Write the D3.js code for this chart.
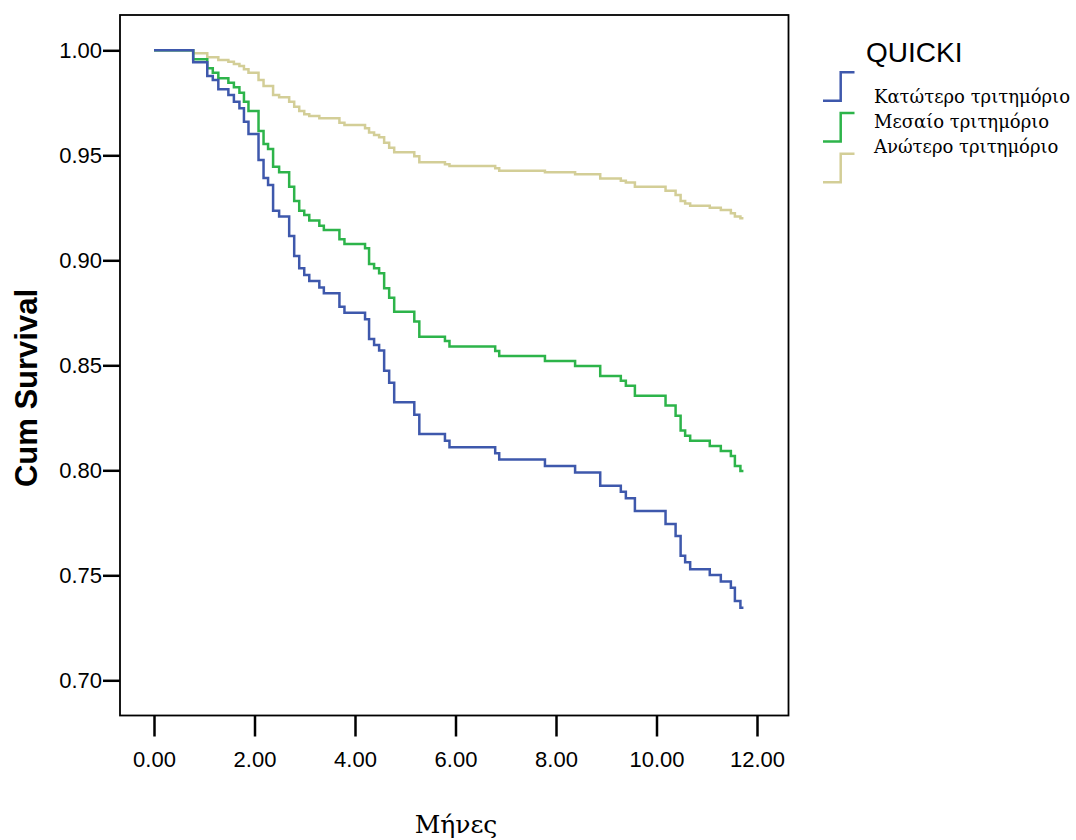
<!DOCTYPE html>
<html>
<head>
<meta charset="utf-8">
<script src="https://cdn.jsdelivr.net/npm/d3@7"></script>
<style>
  html, body { margin: 0; padding: 0; background: #fff; }
  svg { display: block; }
</style>
</head>
<body>
<svg id="chart" width="1076" height="840"></svg>
<script>
// ---- data ----
const times = [0, 0.78, 1.06, 1.17, 1.28, 1.48, 1.59, 1.70, 1.79, 1.88, 2.08, 2.18, 2.27, 2.37, 2.49, 2.69, 2.79, 2.89, 2.99, 3.09, 3.29, 3.38, 3.69, 3.79, 4.20, 4.28, 4.38, 4.48, 4.58, 4.68, 4.78, 5.18, 5.28, 5.79, 5.88, 6.79, 6.87, 7.78, 8.38, 8.88, 9.29, 9.39, 9.57, 10.18, 10.38, 10.48, 10.57, 10.67, 11.06, 11.28, 11.48, 11.56, 11.67];
const endTime = 11.73;

const lowerTertile = [1.0, 0.9943, 0.9878, 0.9859, 0.9814, 0.9787, 0.9755, 0.9724, 0.9660, 0.9601, 0.9478, 0.9392, 0.9359, 0.9236, 0.9208, 0.9116, 0.9020, 0.8962, 0.8930, 0.8901, 0.8871, 0.8843, 0.8779, 0.8750, 0.8719, 0.8625, 0.8597, 0.8570, 0.8474, 0.8417, 0.8324, 0.8265, 0.8173, 0.8141, 0.8110, 0.8081, 0.8052, 0.8020, 0.7990, 0.7927, 0.7898, 0.7867, 0.7806, 0.7744, 0.7687, 0.7593, 0.7562, 0.7529, 0.7501, 0.7470, 0.7441, 0.7378, 0.7346];
const middleTertile = [1.0, 0.9957, 0.9914, 0.9893, 0.9867, 0.9846, 0.9824, 0.9798, 0.9755, 0.9711, 0.9616, 0.9554, 0.9530, 0.9446, 0.9419, 0.9350, 0.9282, 0.9236, 0.9216, 0.9189, 0.9165, 0.9144, 0.9100, 0.9078, 0.9057, 0.8982, 0.8962, 0.8938, 0.8867, 0.8822, 0.8755, 0.8708, 0.8636, 0.8616, 0.8589, 0.8568, 0.8544, 0.8520, 0.8497, 0.8449, 0.8427, 0.8403, 0.8355, 0.8308, 0.8260, 0.8189, 0.8165, 0.8141, 0.8116, 0.8092, 0.8068, 0.8020, 0.7997];
const upperTertile = [1.0, 0.9986, 0.9967, 0.9967, 0.9954, 0.9946, 0.9935, 0.9925, 0.9910, 0.9893, 0.9859, 0.9830, 0.9830, 0.9787, 0.9776, 0.9755, 0.9731, 0.9711, 0.9695, 0.9687, 0.9676, 0.9676, 0.9655, 0.9644, 0.9629, 0.9608, 0.9597, 0.9586, 0.9560, 0.9536, 0.9514, 0.9495, 0.9467, 0.9457, 0.9449, 0.9438, 0.9427, 0.9419, 0.9410, 0.9390, 0.9379, 0.9370, 0.9350, 0.9331, 0.9311, 0.9282, 0.9271, 0.9260, 0.9250, 0.9240, 0.9224, 0.9208, 0.9200];

const seriesNames = ["Κατώτερο τριτημόριο", "Μεσαίο τριτημόριο", "Ανώτερο τριτημόριο"];
const seriesColors = ["#3E58AC", "#2DB44A", "#D3CE97"];
const xTicks = [0, 2, 4, 6, 8, 10, 12];
const yTicks = [0.70, 0.75, 0.80, 0.85, 0.90, 0.95, 1.00];
const legendTitle = "QUICKI";
const xTitle = "Μήνες";
const yTitle = "Cum Survival";

// ---- layout ----
const svg = d3.select("#chart");
const frame = { left: 120, right: 788.5, top: 15, bottom: 715.5 };

const x = d3.scaleLinear().domain([0, 12]).range([154, 757]);
const y = d3.scaleLinear().domain([0.70, 1.00]).range([680.3, 50.3]);

// plot frame
svg.append("rect")
  .attr("x", frame.left).attr("y", frame.top)
  .attr("width", frame.right - frame.left).attr("height", frame.bottom - frame.top)
  .attr("fill", "none").attr("stroke", "#000").attr("stroke-width", 1.8);

// y axis
const yAxis = svg.append("g")
  .attr("transform", `translate(${frame.left},0)`)
  .call(d3.axisLeft(y).tickValues(yTicks).tickFormat(d3.format(".2f")).tickSize(17).tickPadding(1));
yAxis.select(".domain").remove();
yAxis.selectAll("line").attr("stroke", "#000").attr("stroke-width", 2.5);
yAxis.selectAll("text")
  .attr("font-family", "'Liberation Sans', Arial, sans-serif")
  .attr("font-size", 22).attr("fill", "#000");

// x axis
const xAxis = svg.append("g")
  .attr("transform", `translate(0,${frame.bottom})`)
  .call(d3.axisBottom(x).tickValues(xTicks).tickFormat(d3.format(".2f")).tickSize(21));
xAxis.select(".domain").remove();
xAxis.selectAll("line").attr("stroke", "#000").attr("stroke-width", 2.5);
xAxis.selectAll("text")
  .attr("y", 51.5).attr("dy", 0)
  .attr("font-family", "'Liberation Sans', Arial, sans-serif")
  .attr("font-size", 22).attr("fill", "#000");

// axis titles
svg.append("text")
  .attr("transform", `translate(37,${388}) rotate(-90)`)
  .attr("text-anchor", "middle")
  .attr("font-family", "'Liberation Sans', Arial, sans-serif")
  .attr("font-weight", "bold").attr("font-size", 31)
  .text(yTitle);

svg.append("text")
  .attr("x", 456).attr("y", 833)
  .attr("text-anchor", "middle")
  .attr("font-family", "'DejaVu Serif', 'Liberation Serif', serif")
  .attr("font-size", 25)
  .text(xTitle);

// curves
const seriesValues = [lowerTertile, middleTertile, upperTertile];
const line = d3.line()
  .x(d => x(d[0])).y(d => y(d[1]))
  .curve(d3.curveStepAfter);

const drawOrder = [2, 1, 0];
drawOrder.forEach(i => {
  const vals = seriesValues[i];
  const pts = times.map((t, j) => [t, vals[j]]);
  pts.push([endTime, vals[vals.length - 1]]);
  svg.append("path")
    .attr("d", line(pts))
    .attr("fill", "none")
    .attr("stroke", seriesColors[i])
    .attr("stroke-width", 2.5);
});

// legend
svg.append("text")
  .attr("x", 866).attr("y", 61.5)
  .attr("font-family", "'Liberation Sans', Arial, sans-serif")
  .attr("font-size", 28)
  .text(legendTitle);

seriesNames.forEach((name, i) => {
  const top = 72.3 + i * 40.7;
  const bot = top + 28.5;
  svg.append("path")
    .attr("d", `M823,${bot}H840.7V${top}H854.5`)
    .attr("fill", "none")
    .attr("stroke", seriesColors[i])
    .attr("stroke-width", 2.5);
  svg.append("text")
    .attr("x", 874).attr("y", 102.7 + i * 25.3)
    .attr("font-family", "'DejaVu Serif', 'Liberation Serif', serif")
    .attr("font-size", 18)
    .text(name);
});
</script>
</body>
</html>
